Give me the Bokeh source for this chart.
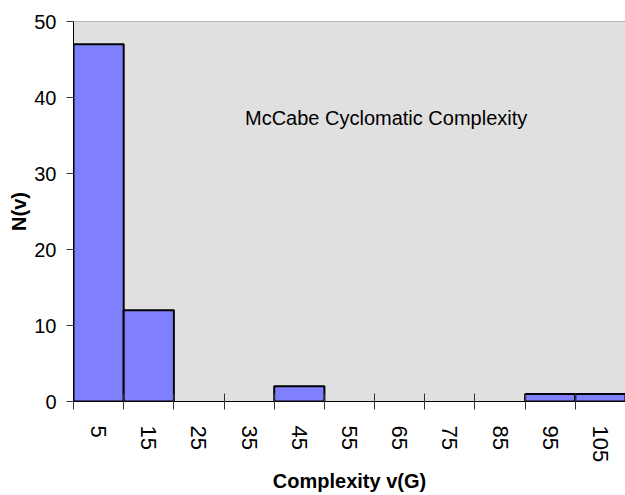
from bokeh.plotting import figure
from bokeh.models import FixedTicker, Range1d, Label, ColumnDataSource, Span
from bokeh.embed import file_html
from bokeh.resources import INLINE

# Data
categories = ["5", "15", "25", "35", "45", "55", "65", "75", "85", "95", "105"]
counts = [47, 12, 0, 0, 2, 0, 0, 0, 0, 1, 1]
y_ticks = [0, 10, 20, 30, 40, 50]
title_text = "McCabe Cyclomatic Complexity"
x_title = "Complexity v(G)"
y_title = "N(v)"

n = len(categories)
centers = [i + 0.5 for i in range(n)]
bounds = list(range(n + 1))

bar_x = [centers[i] for i, c in enumerate(counts) if c > 0]
bar_top = [c for c in counts if c > 0]
src = ColumnDataSource(data=dict(x=bar_x, top=bar_top))

FONT = "Liberation Sans"
Y_MAX = y_ticks[-1]

p = figure(width=625, height=495, output_backend="svg", toolbar_location=None,
           x_range=Range1d(0, n), y_range=Range1d(0, Y_MAX),
           min_border_left=73, min_border_right=0, min_border_top=21, min_border_bottom=94)

p.background_fill_color = "#e0e0e0"
p.border_fill_color = "white"
p.outline_line_color = None
p.grid.visible = False

p.add_layout(Span(location=Y_MAX, dimension="width", line_color="#808080", line_width=1))

p.vbar(x="x", top="top", bottom=0, width=1.0, source=src,
       fill_color="#8080ff", line_color="black", line_width=2)

# x axis
xa = p.xaxis[0]
xa.ticker = FixedTicker(ticks=centers, minor_ticks=bounds)
xa.major_label_overrides = {c: lab for c, lab in zip(centers, categories)}
xa.major_label_orientation = "vertical"
xa.major_tick_in = 0
xa.major_tick_out = 0
xa.minor_tick_in = 8
xa.minor_tick_out = 8
xa.minor_tick_line_color = "#333333"
xa.minor_tick_line_width = 1
xa.axis_line_color = "black"
xa.axis_line_width = 1
xa.major_label_standoff = 16
xa.major_label_text_font = FONT
xa.major_label_text_font_size = "22px"
xa.major_label_text_color = "black"
xa.axis_label = x_title
xa.axis_label_text_font = FONT
xa.axis_label_text_font_size = "20px"
xa.axis_label_text_font_style = "bold"
xa.axis_label_text_color = "black"
xa.axis_label_standoff = 5

# y axis
ya = p.yaxis[0]
ya.ticker = FixedTicker(ticks=y_ticks)
ya.major_tick_in = 0
ya.major_tick_out = 7
ya.major_tick_line_color = "#333333"
ya.minor_tick_line_color = None
ya.axis_line_color = "black"
ya.major_label_standoff = 10
ya.major_label_text_font = FONT
ya.major_label_text_font_size = "20px"
ya.major_label_text_color = "black"
ya.axis_label = y_title
ya.axis_label_text_font = FONT
ya.axis_label_text_font_size = "20px"
ya.axis_label_text_font_style = "bold"
ya.axis_label_text_color = "black"
ya.axis_label_standoff = 1

lab = Label(x=6.23, y=37.3, text=title_text, text_font=FONT, text_font_size="20px",
            text_color="black", text_align="center", text_baseline="middle")
p.add_layout(lab)

open("out.html", "w").write(file_html(p, INLINE))
